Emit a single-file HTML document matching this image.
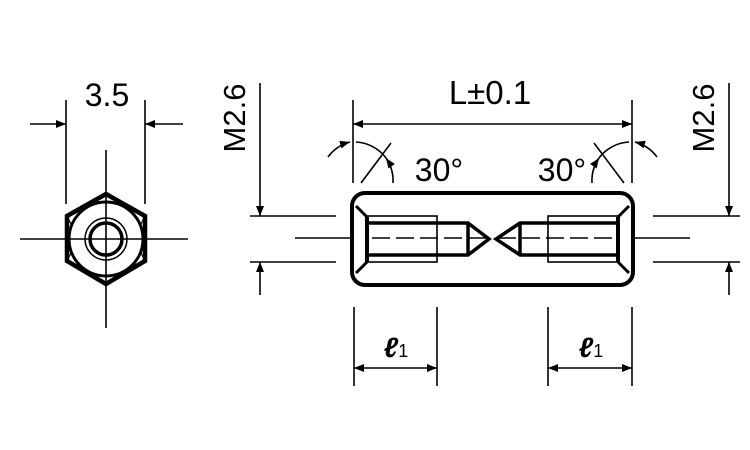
<!DOCTYPE html>
<html><head><meta charset="utf-8"><style>
body{margin:0;background:#fff}
svg{display:block}
text{font-family:"Liberation Sans",Arial,sans-serif;fill:#000}
</style></head><body>
<svg width="750" height="450" viewBox="0 0 750 450" xmlns="http://www.w3.org/2000/svg">
<defs>
<marker id="a" viewBox="0 0 10 10" refX="10" refY="5" markerWidth="10" markerHeight="10" markerUnits="userSpaceOnUse" orient="auto"><path d="M0,1 L10,5 L0,9 Z" fill="#000"/></marker>
</defs>
<g stroke="#000" fill="none" stroke-width="1.6">
<line x1="66" y1="100" x2="66" y2="204"/>
<line x1="145" y1="100" x2="145" y2="204"/>
<line x1="30" y1="124" x2="66" y2="124" marker-end="url(#a)"/>
<line x1="183" y1="124" x2="145" y2="124" marker-end="url(#a)"/>
<line x1="106" y1="150" x2="106" y2="328"/>
<line x1="20" y1="239" x2="188" y2="239"/>
<polygon points="106,194 145,216 145,261 106,284 67,261 67,216" stroke-width="4.5"/>
<circle cx="106" cy="239" r="37" stroke-width="3"/>
<circle cx="106" cy="239" r="21" stroke-width="1.5"/>
<circle cx="106" cy="239" r="16" stroke-width="3.5"/>
<line x1="67" y1="216" x2="72" y2="226" stroke-width="1.2"/>
<line x1="145" y1="216" x2="140" y2="226" stroke-width="1.2"/>
<line x1="67" y1="261" x2="72" y2="251" stroke-width="1.2"/>
<line x1="145" y1="261" x2="140" y2="251" stroke-width="1.2"/>
<line x1="260" y1="83" x2="260" y2="216" marker-end="url(#a)"/>
<line x1="260" y1="295" x2="260" y2="262" marker-end="url(#a)"/>
<line x1="250" y1="216" x2="336" y2="216"/>
<line x1="250" y1="262" x2="336" y2="262"/>
<line x1="295" y1="238" x2="352" y2="238"/>
<line x1="729" y1="83" x2="729" y2="216" marker-end="url(#a)"/>
<line x1="729" y1="295" x2="729" y2="262" marker-end="url(#a)"/>
<line x1="653" y1="216" x2="740" y2="216"/>
<line x1="653" y1="262" x2="740" y2="262"/>
<line x1="633" y1="238" x2="690" y2="238"/>
<line x1="353" y1="100" x2="353" y2="183"/>
<line x1="632" y1="100" x2="632" y2="183"/>
<line x1="492" y1="124" x2="353" y2="124" marker-end="url(#a)"/>
<line x1="492" y1="124" x2="632" y2="124" marker-end="url(#a)"/>
<line x1="361" y1="183" x2="391" y2="143"/>
<path d="M328,157 A40,40 0 0 1 350,142" marker-end="url(#a)"/>
<path d="M356,142 A40,40 0 0 1 386,158"/>
<path d="M393,183 A40,40 0 0 0 386,158" marker-end="url(#a)"/>
<line x1="624" y1="183" x2="594" y2="143"/>
<path d="M657,157 A40,40 0 0 0 635,142" marker-end="url(#a)"/>
<path d="M629,142 A40,40 0 0 0 599,158"/>
<path d="M592,183 A40,40 0 0 1 599,158" marker-end="url(#a)"/>
<rect x="352" y="193" width="281" height="92" rx="13" stroke-width="4"/>
<line x1="367" y1="217" x2="367" y2="262" stroke-width="4"/>
<line x1="356" y1="206" x2="367" y2="217" stroke-width="3"/>
<line x1="356" y1="273" x2="367" y2="262" stroke-width="3"/>
<line x1="618" y1="217" x2="618" y2="262" stroke-width="4"/>
<line x1="629" y1="206" x2="618" y2="217" stroke-width="3"/>
<line x1="629" y1="273" x2="618" y2="262" stroke-width="3"/>
<rect x="367" y="216" width="70" height="46" stroke-width="1.6"/>
<rect x="548" y="216" width="70" height="46" stroke-width="1.6"/>
<polyline points="367,223 468,223 489,239 468,255 367,255" stroke-width="3.5"/>
<line x1="468" y1="223" x2="468" y2="255" stroke-width="3.5"/>
<polyline points="618,223 520,223 496,239 520,255 618,255" stroke-width="3.5"/>
<line x1="520" y1="223" x2="520" y2="255" stroke-width="3.5"/>
<line x1="372" y1="238" x2="486" y2="238" stroke-dasharray="18,6"/>
<line x1="498" y1="238" x2="614" y2="238" stroke-dasharray="18,6"/>
<line x1="354" y1="307" x2="354" y2="386"/>
<line x1="437" y1="307" x2="437" y2="386"/>
<line x1="395" y1="368" x2="354" y2="368" marker-end="url(#a)"/>
<line x1="395" y1="368" x2="437" y2="368" marker-end="url(#a)"/>
<line x1="548" y1="307" x2="548" y2="386"/>
<line x1="632" y1="307" x2="632" y2="386"/>
<line x1="590" y1="368" x2="548" y2="368" marker-end="url(#a)"/>
<line x1="590" y1="368" x2="632" y2="368" marker-end="url(#a)"/>
</g>
<text x="107" y="106" font-size="32" text-anchor="middle">3.5</text>
<text x="490" y="104" font-size="33" text-anchor="middle">L±0.1</text>
<text x="439" y="181" font-size="32" text-anchor="middle">30°</text>
<text x="562" y="181" font-size="32" text-anchor="middle">30°</text>
<text transform="translate(245,118) rotate(-90)" font-size="31" text-anchor="middle">M2.6</text>
<text transform="translate(714,118) rotate(-90)" font-size="31" text-anchor="middle">M2.6</text>
<text x="396" y="357" font-size="28" font-style="italic" font-weight="bold" text-anchor="middle">ℓ<tspan font-size="18" font-weight="normal" font-style="normal">1</tspan></text>
<text x="591" y="357" font-size="28" font-style="italic" font-weight="bold" text-anchor="middle">ℓ<tspan font-size="18" font-weight="normal" font-style="normal">1</tspan></text>
</svg>
</body></html>
